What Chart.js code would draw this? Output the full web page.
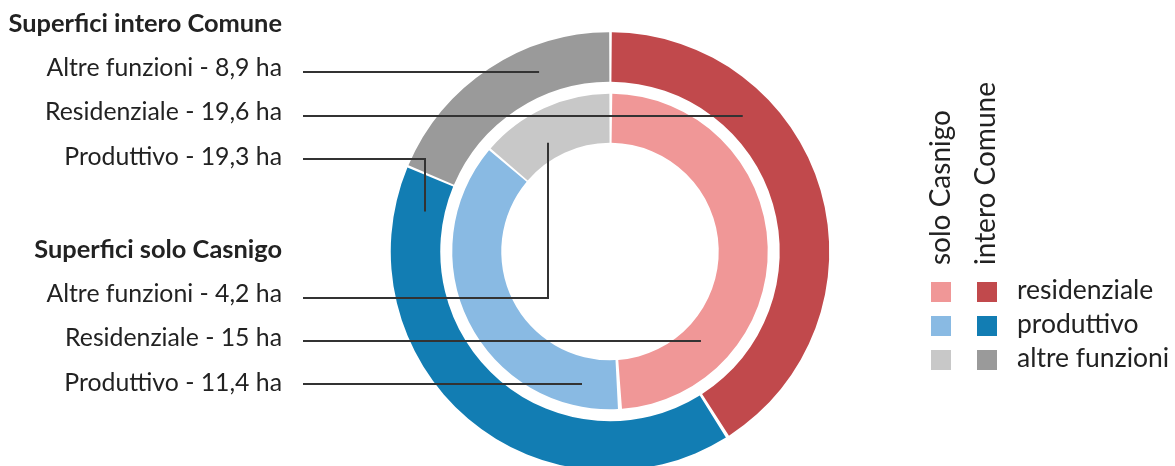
<!DOCTYPE html>
<html>
<head>
<meta charset="utf-8">
<script src="https://cdn.jsdelivr.net/npm/chart.js@4/dist/chart.umd.min.js"></script>
<style>
  html, body { margin:0; padding:0; background:#ffffff; }
  body { width:1175px; height:466px; overflow:hidden; position:relative; font-family:"Lato", sans-serif; color:#222222; }
  #c { position:absolute; left:0; top:0; }
  .lbl { position:absolute; right:893px; white-space:nowrap; }
  .ttl { font-weight:700; }
  .hdr { position:absolute; white-space:nowrap; transform-origin:0 0; transform:rotate(-90deg); color:#222; }
  .sw { position:absolute; width:20px; height:20px; }
  .lg { position:absolute; left:1017px; white-space:nowrap; }
</style>
</head>
<body>
<canvas id="c" width="1175" height="480"></canvas>
<div id="labels"></div>
<script>
// ---- data ----
const categories = ['residenziale', 'produttivo', 'altre funzioni'];
const labelNames = ['Residenziale', 'Produttivo', 'Altre funzioni'];
const interoComune = [19.6, 19.3, 8.9];   // outer ring (ha)
const soloCasnigo  = [15, 11.4, 4.2];     // inner ring (ha)
const colorsIntero = ['#C1494C', '#127DB3', '#9A9A9A'];
const colorsSolo   = ['#F09797', '#89BAE3', '#C8C8C8'];
const groupTitles = ['Superfici intero Comune', 'Superfici solo Casnigo'];
const legendHeaders = ['solo Casnigo', 'intero Comune'];

function fmt(v) { return String(v).replace('.', ','); }

const asc = 0.887; // Lato baseline offset for line-height:1
function place(el, size, baseline) {
  el.style.fontSize = size + 'px';
  el.style.lineHeight = size + 'px';
  el.style.top = (baseline - asc * size) + 'px';
}

// ---- left labels (HTML text) ----
const order = [2, 0, 1]; // Altre, Residenziale, Produttivo
const LABEL_SIZE = 24.8, TITLE_SIZE = 25.4;
const blocks = [
  { title: groupTitles[0], values: interoComune, baselines: [32.7, 77.3, 120.7, 165.7] },
  { title: groupTitles[1], values: soloCasnigo,  baselines: [258.3, 302.7, 347.3, 392.3] }
];
const lab = document.getElementById('labels');
blocks.forEach(b => {
  const t = document.createElement('div');
  t.className = 'lbl ttl';
  t.textContent = b.title;
  place(t, TITLE_SIZE, b.baselines[0]);
  lab.appendChild(t);
  order.forEach((k, j) => {
    const d = document.createElement('div');
    d.className = 'lbl';
    d.textContent = labelNames[k] + ' - ' + fmt(b.values[k]) + ' ha';
    place(d, LABEL_SIZE, b.baselines[j + 1]);
    lab.appendChild(d);
  });
});

// ---- legend ----
const HS = 28;
[[legendHeaders[0], 950], [legendHeaders[1], 995]].forEach(([txt, bx]) => {
  const h = document.createElement('div');
  h.className = 'hdr';
  h.textContent = txt;
  h.style.fontSize = HS + 'px';
  h.style.lineHeight = HS + 'px';
  h.style.left = (bx - asc * HS) + 'px';
  h.style.top = '265px';
  lab.appendChild(h);
});
const LS = 26.5;
categories.forEach((c, i) => {
  const y = 282 + i * 34;
  const a = document.createElement('div'); a.className = 'sw';
  a.style.left = '931px'; a.style.top = y + 'px'; a.style.background = colorsSolo[i];
  const b = document.createElement('div'); b.className = 'sw';
  b.style.left = '977px'; b.style.top = y + 'px'; b.style.background = colorsIntero[i];
  const t = document.createElement('div'); t.className = 'lg';
  t.textContent = c;
  place(t, LS, y + 17.5);
  lab.appendChild(a); lab.appendChild(b); lab.appendChild(t);
});

// ---- leader lines (annotation geometry relative to the rings) ----
const leaders = [
  { ring: 0, y: 72,  frac: 0.495, side: -1 },
  { ring: 0, y: 116, frac: 0.428, side: 1 },
  { ring: 0, y: 159, frac: 0.41,  angle: 282.2 },
  { ring: 2, y: 298, frac: 0.365, angle: 330.2 },
  { ring: 2, y: 341, frac: 0.41,  side: 1 },
  { ring: 2, y: 384, frac: 0.57,  side: -1 }
];
const leaderStartX = 303;

const leaderPlugin = {
  id: 'leaders',
  afterDatasetsDraw(chart) {
    const ctx = chart.ctx;
    ctx.save();
    ctx.strokeStyle = '#333333';
    ctx.lineWidth = 2;
    ctx.lineCap = 'butt';
    ctx.lineJoin = 'miter';
    leaders.forEach(L => {
      const arc = chart.getDatasetMeta(L.ring).data[0];
      const cx = arc.x, cy = arc.y;
      const r = arc.innerRadius + L.frac * (arc.outerRadius - arc.innerRadius);
      ctx.beginPath();
      ctx.moveTo(leaderStartX, L.y);
      if (L.angle !== undefined) {
        const a = L.angle * Math.PI / 180;
        const tx = Math.round(cx + r * Math.sin(a));
        const ty = cy - r * Math.cos(a);
        ctx.lineTo(tx, L.y);
        ctx.lineTo(tx, ty);
      } else {
        const dy = L.y - cy;
        const tx = cx + L.side * Math.sqrt(Math.max(r * r - dy * dy, 0));
        ctx.lineTo(tx, L.y);
      }
      ctx.stroke();
    });
    ctx.restore();
  }
};

new Chart(document.getElementById('c'), {
  type: 'doughnut',
  data: {
    labels: categories,
    datasets: [
      { label: 'intero Comune', data: interoComune, backgroundColor: colorsIntero, weight: 49.5 },
      { label: 'gap', data: [1], backgroundColor: ['rgba(0,0,0,0)'], weight: 12 },
      { label: 'solo Casnigo', data: soloCasnigo, backgroundColor: colorsSolo, weight: 49 }
    ]
  },
  options: {
    responsive: false,
    animation: false,
    events: [],
    cutout: '49.31%',
    spacing: 2.5,
    borderWidth: 0,
    hoverBorderWidth: 0,
    offset: 0,
    hoverOffset: 0,
    layout: { padding: { left: 390.75, right: 345.75, top: 32.25, bottom: 9.25 } },
    plugins: { legend: { display: false }, tooltip: { enabled: false } }
  },
  plugins: [leaderPlugin]
});
</script>
</body>
</html>
